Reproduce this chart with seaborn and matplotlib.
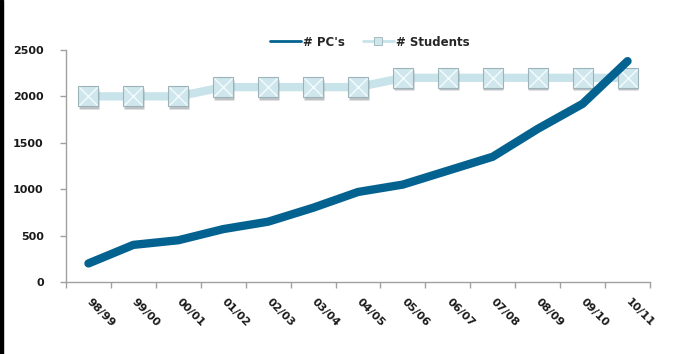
import matplotlib
matplotlib.use("Agg")
import matplotlib.pyplot as plt
from matplotlib.patches import Rectangle
from matplotlib.lines import Line2D
from matplotlib.transforms import ScaledTranslation
import numpy as np
import pandas as pd
import seaborn as sns

years = ["98/99", "99/00", "00/01", "01/02", "02/03", "03/04", "04/05",
         "05/06", "06/07", "07/08", "08/09", "09/10", "10/11"]
pcs = [200, 400, 450, 570, 650, 800, 970, 1050, 1200, 1350, 1650, 1920, 2380]
students = [2000, 2000, 2000, 2100, 2100, 2100, 2100,
            2200, 2200, 2200, 2200, 2200, 2200]
y_ticks = [0, 500, 1000, 1500, 2000, 2500]

df = pd.DataFrame({"pos": np.arange(len(years)), "year": years,
                   "pcs": pcs, "students": students})

sns.set_style("white")
plt.rcParams["font.family"] = ["DejaVu Sans"]

pc_color = "#03628f"
st_line = "#c8e3ea"
st_face = "#cfe6ed"
st_edge = "#9db3ba"

fig = plt.figure(figsize=(6.82, 3.54), dpi=100)
ax = fig.add_axes([66 / 682, 1 - 282 / 354, 584 / 682, 232 / 354])

# Students: thick pale line with bevelled square markers
sns.lineplot(data=df, x="pos", y="students", ax=ax, color=st_line,
             linewidth=6, zorder=2, legend=False)
shadow = ax.transData + ScaledTranslation(0.5 / 72, -1.8 / 72,
                                          fig.dpi_scale_trans)
ax.plot(df["pos"], df["students"], linestyle="none", marker="s",
        markersize=14, markerfacecolor="#8a8f92", markeredgecolor="none",
        alpha=0.55, zorder=3, transform=shadow)
ax.plot(df["pos"], df["students"], linestyle="none", marker="s",
        markersize=14, markerfacecolor=st_face, markeredgecolor=st_edge,
        markeredgewidth=0.8, zorder=4)
ax.plot(df["pos"], df["students"], linestyle="none", marker="x",
        markersize=13, markeredgecolor="#f4fbfd", markeredgewidth=1.0,
        zorder=5)

# PCs: heavy dark-blue line
sns.lineplot(data=df, x="pos", y="pcs", ax=ax, color=pc_color,
             linewidth=6, zorder=6, legend=False)
for l in ax.get_lines():
    l.set_solid_capstyle("round")
    l.set_solid_joinstyle("round")

ax.set_xlim(-0.5, len(years) - 0.5)
ax.set_ylim(0, 2500)
ax.set_yticks(y_ticks)
ax.set_yticklabels([str(v) for v in y_ticks], fontsize=8, fontweight="bold",
                   color="#1a1a1a")
ax.set_xticks(df["pos"])
ax.set_xticklabels(years, rotation=-45, ha="left", va="center",
                   rotation_mode="anchor", fontsize=8, fontweight="bold",
                   color="#1a1a1a")
ax.set_xticks(np.arange(-0.5, len(years)), minor=True)
ax.tick_params(axis="x", which="major", length=0, pad=13, bottom=True)
ax.tick_params(axis="x", which="minor", length=4, color="#a0a0a0", width=1,
               bottom=True, direction="out")
ax.tick_params(axis="y", length=4, color="#a0a0a0", width=1, pad=12,
               left=True, direction="out")
ax.set_xlabel("")
ax.set_ylabel("")
for side in ("top", "right"):
    ax.spines[side].set_visible(False)
for side in ("left", "bottom"):
    ax.spines[side].set_color("#a0a0a0")
    ax.spines[side].set_linewidth(1)

handles = [
    Line2D([], [], color=pc_color, linewidth=2),
    Line2D([], [], color=st_line, linewidth=2, marker="s", markersize=6,
           markerfacecolor=st_face, markeredgecolor=st_edge,
           markeredgewidth=0.6),
]
fig.legend(handles, ["# PC's", "# Students"], loc="center",
           bbox_to_anchor=(370 / 682, 1 - 42 / 354), ncol=2, frameon=False,
           handlelength=2.6, handletextpad=0.2,
           columnspacing=1.5, prop={"weight": "bold", "size": 8.5})

fig.patches.append(Rectangle((0, 0), 3 / 682, 1, transform=fig.transFigure,
                             color="black", zorder=10))

fig.savefig("out.png", dpi=100)
